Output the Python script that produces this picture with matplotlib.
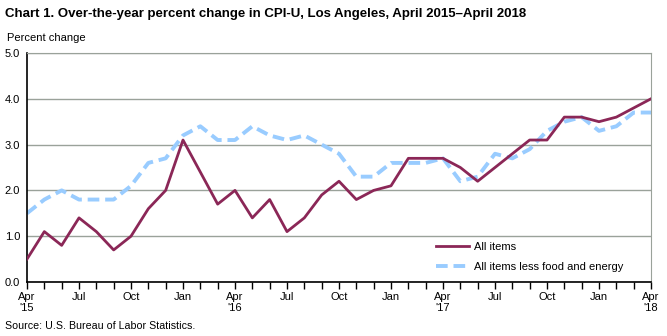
import numpy as np
import matplotlib.pyplot as plt

plt.rcParams['font.family'] = ['Liberation Sans', 'DejaVu Sans']

# monthly values, Apr 2015 .. Apr 2018
all_items = [0.5, 1.1, 0.8, 1.4, 1.1, 0.7, 1.0, 1.6, 2.0,
             3.1, 2.4, 1.7, 2.0, 1.4, 1.8, 1.1, 1.4, 1.9, 2.2, 1.8, 2.0,
             2.1, 2.7, 2.7, 2.7, 2.5, 2.2, 2.5, 2.8, 3.1, 3.1, 3.6, 3.6,
             3.5, 3.6, 3.8, 4.0]
less_food_energy = [1.5, 1.8, 2.0, 1.8, 1.8, 1.8, 2.1, 2.6, 2.7,
                    3.2, 3.4, 3.1, 3.1, 3.4, 3.2, 3.1, 3.2, 3.0, 2.8, 2.3, 2.3,
                    2.6, 2.6, 2.6, 2.7, 2.2, 2.3, 2.8, 2.7, 2.9, 3.3, 3.5, 3.6,
                    3.3, 3.4, 3.7, 3.7]
tick_labels = ["Apr\n'15", "Jul", "Oct", "Jan", "Apr\n'16", "Jul", "Oct", "Jan",
               "Apr\n'17", "Jul", "Oct", "Jan", "Apr\n'18"]

x = np.arange(len(all_items))

fig = plt.figure(figsize=(6.67, 3.36), dpi=100)
ax = fig.add_axes([27/667, 1 - 282/336, 624/667, 229/336])

ax.plot(x, all_items, color='#8B2757', lw=2, label='All items', zorder=3)
ax.plot(x, less_food_energy, color='#99CCFF', lw=2.8, ls=(0, (3, 1.5)),
        label='All items less food and energy', zorder=2)

ax.set_xlim(0, 36)
ax.set_ylim(0, 5)
ax.set_yticks(np.arange(0, 5.1, 1))
ax.set_yticklabels(['%.1f' % v for v in np.arange(0, 5.1, 1)], fontsize=8)
ax.tick_params(axis='y', length=0, pad=5)
ax.set_xticks(x, minor=True)
ax.set_xticks(x[::3])
ax.set_xticklabels(tick_labels, fontsize=8, linespacing=1.1)
ax.tick_params(axis='x', which='both', direction='out', length=5, width=1,
               color='black', pad=2)

ax.grid(axis='y', color='#9AA29A', lw=1)
ax.set_axisbelow(True)
for s in ['top', 'right']:
    ax.spines[s].set_color('#9AA29A')
for s in ['left', 'bottom']:
    ax.spines[s].set_color('black')
    ax.spines[s].set_linewidth(1.2)

ax.legend(loc='lower right', bbox_to_anchor=(0.972, 0.0), frameon=False,
          fontsize=8, handlelength=2.9, handletextpad=0.5, labelspacing=0.9)

fig.text(5/667, 1 - 14/336, 'Chart 1. Over-the-year percent change in CPI-U, Los Angeles, April 2015\u2013April 2018',
         fontsize=9.5, fontweight='bold', va='center')
fig.text(7/667, 1 - 38/336, 'Percent change', fontsize=8, va='center')
fig.text(5/667, 1 - 326/336, 'Source: U.S. Bureau of Labor Statistics.', fontsize=7.7, va='center')

fig.savefig('out.png', dpi=100)
